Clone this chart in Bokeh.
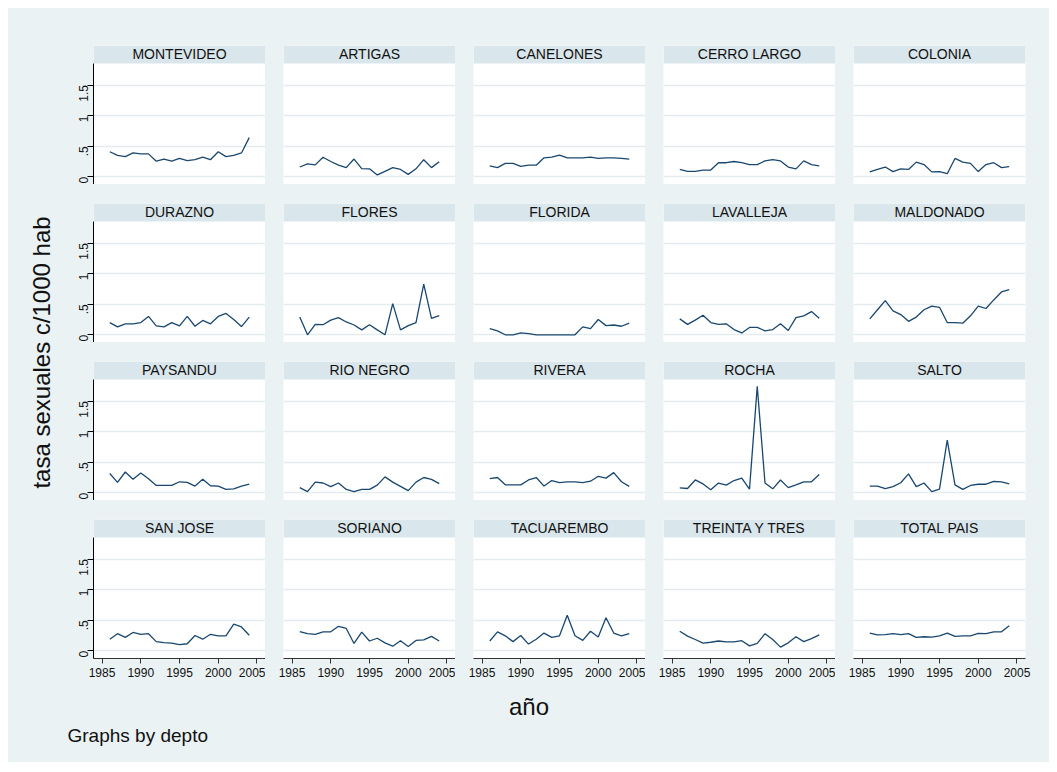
import math
from bokeh.plotting import figure
from bokeh.models import Range1d, LinearAxis, Grid, FixedTicker, BoxAnnotation, Label
from bokeh.layouts import row, column
from bokeh.embed import file_html
from bokeh.resources import INLINE

# ---------------- data ----------------
years = list(range(1986, 2005))

deptos = ["MONTEVIDEO", "ARTIGAS", "CANELONES", "CERRO LARGO", "COLONIA",
          "DURAZNO", "FLORES", "FLORIDA", "LAVALLEJA", "MALDONADO",
          "PAYSANDU", "RIO NEGRO", "RIVERA", "ROCHA", "SALTO",
          "SAN JOSE", "SORIANO", "TACUAREMBO", "TREINTA Y TRES", "TOTAL PAIS"]

montevideo = [0.41, 0.35, 0.33, 0.39, 0.375, 0.375, 0.255, 0.29, 0.255, 0.30, 0.265, 0.28, 0.32, 0.28, 0.41, 0.33, 0.35, 0.39, 0.64]
artigas = [0.16, 0.21, 0.195, 0.32, 0.25, 0.19, 0.15, 0.29, 0.135, 0.13, 0.03, 0.09, 0.15, 0.12, 0.04, 0.13, 0.28, 0.15, 0.245]
canelones = [0.18, 0.15, 0.22, 0.22, 0.17, 0.19, 0.19, 0.31, 0.32, 0.355, 0.31, 0.31, 0.31, 0.32, 0.30, 0.31, 0.31, 0.30, 0.29]
cerro_largo = [0.12, 0.09, 0.09, 0.11, 0.11, 0.23, 0.23, 0.25, 0.23, 0.20, 0.20, 0.26, 0.28, 0.26, 0.16, 0.13, 0.26, 0.20, 0.18]
colonia = [0.08, 0.12, 0.16, 0.085, 0.13, 0.12, 0.24, 0.20, 0.08, 0.085, 0.05, 0.30, 0.24, 0.22, 0.085, 0.20, 0.23, 0.15, 0.165]
durazno = [0.20, 0.13, 0.18, 0.18, 0.20, 0.30, 0.145, 0.13, 0.20, 0.145, 0.30, 0.14, 0.235, 0.18, 0.30, 0.35, 0.25, 0.135, 0.29]
flores = [0.29, 0.0, 0.17, 0.165, 0.24, 0.28, 0.21, 0.16, 0.08, 0.165, 0.08, 0.0, 0.51, 0.08, 0.15, 0.20, 0.83, 0.27, 0.315]
florida = [0.10, 0.065, 0.0, 0.0, 0.03, 0.02, 0.0, 0.0, 0.0, 0.0, 0.0, 0.0, 0.13, 0.10, 0.25, 0.15, 0.16, 0.14, 0.19]
lavalleja = [0.26, 0.17, 0.24, 0.32, 0.20, 0.17, 0.18, 0.085, 0.03, 0.12, 0.12, 0.065, 0.085, 0.18, 0.07, 0.28, 0.31, 0.38, 0.27]
maldonado = [0.26, 0.41, 0.56, 0.39, 0.33, 0.22, 0.29, 0.41, 0.47, 0.45, 0.20, 0.20, 0.19, 0.31, 0.47, 0.43, 0.57, 0.70, 0.74]
paysandu = [0.315, 0.17, 0.34, 0.22, 0.325, 0.23, 0.12, 0.12, 0.12, 0.18, 0.17, 0.11, 0.22, 0.115, 0.11, 0.055, 0.065, 0.11, 0.14]
rio_negro = [0.085, 0.02, 0.175, 0.16, 0.10, 0.16, 0.055, 0.02, 0.055, 0.055, 0.125, 0.26, 0.175, 0.105, 0.035, 0.175, 0.25, 0.22, 0.15]
rivera = [0.23, 0.25, 0.13, 0.13, 0.13, 0.21, 0.25, 0.11, 0.20, 0.165, 0.18, 0.18, 0.165, 0.19, 0.27, 0.24, 0.33, 0.18, 0.105]
rocha = [0.08, 0.07, 0.21, 0.145, 0.05, 0.16, 0.125, 0.20, 0.24, 0.06, 1.74, 0.16, 0.065, 0.21, 0.085, 0.13, 0.18, 0.18, 0.30]
salto = [0.11, 0.11, 0.07, 0.10, 0.165, 0.31, 0.10, 0.16, 0.02, 0.06, 0.86, 0.13, 0.055, 0.12, 0.14, 0.14, 0.185, 0.18, 0.145]
san_jose = [0.19, 0.28, 0.22, 0.30, 0.27, 0.28, 0.15, 0.135, 0.125, 0.10, 0.115, 0.25, 0.19, 0.27, 0.245, 0.245, 0.435, 0.39, 0.255]
soriano = [0.315, 0.28, 0.27, 0.31, 0.31, 0.40, 0.365, 0.12, 0.305, 0.16, 0.205, 0.13, 0.075, 0.165, 0.07, 0.17, 0.18, 0.235, 0.16]
tacuarembo = [0.16, 0.31, 0.245, 0.15, 0.25, 0.11, 0.19, 0.29, 0.22, 0.245, 0.58, 0.245, 0.17, 0.32, 0.225, 0.54, 0.29, 0.245, 0.28]
treinta_y_tres = [0.32, 0.24, 0.185, 0.125, 0.14, 0.16, 0.145, 0.145, 0.165, 0.08, 0.12, 0.28, 0.185, 0.06, 0.13, 0.23, 0.15, 0.20, 0.26]
total_pais = [0.29, 0.26, 0.265, 0.28, 0.265, 0.28, 0.22, 0.23, 0.225, 0.245, 0.29, 0.235, 0.245, 0.245, 0.285, 0.28, 0.31, 0.31, 0.41]

series = [montevideo, artigas, canelones, cerro_largo, colonia,
          durazno, flores, florida, lavalleja, maldonado,
          paysandu, rio_negro, rivera, rocha, salto,
          san_jose, soriano, tacuarembo, treinta_y_tres, total_pais]

x_ticks = [1985, 1990, 1995, 2000, 2005]
y_ticks = [0, 0.5, 1, 1.5]
y_tick_labels = {0: "0", 0.5: ".5", 1: "1", 1.5: "1.5"}

y_title = "tasa sexuales c/1000 hab"
x_title = "año"
note = "Graphs by depto"

# ---------------- styles ----------------
BG = "#EAF2F3"
STRIP = "#D9E6EB"
GRID = "#E3ECEF"
NAVY = "#1A476F"
FONT = "Liberation Sans"

X0, X1 = 1983.9, 2006.1
Y0, YTOP, Y1 = -0.126, 1.853, 2.147

NCOL = 5
rows = []
panel_row = []
for i, (name, vals) in enumerate(zip(deptos, series)):
    r, c = divmod(i, NCOL)
    p = figure(frame_width=172, frame_height=139,
               x_range=Range1d(X0, X1), y_range=Range1d(Y0, Y1),
               x_axis_location=None, y_axis_location=None,
               toolbar_location=None, output_backend="svg",
               min_border_left=30 if c == 0 else 18,
               min_border_right=24 if c == NCOL - 1 else 0,
               min_border_top=37 if r == 0 else 19,
               min_border_bottom=30 if r == 3 else 0,
               background_fill_color="white", border_fill_color=BG,
               outline_line_color=None)
    for g in p.grid:
        g.visible = False
    p.add_layout(Grid(dimension=1, ticker=FixedTicker(ticks=y_ticks),
                      grid_line_color=GRID, grid_line_width=1.3))
    p.line(years, vals, line_color=NAVY, line_width=1.3)
    p.add_layout(BoxAnnotation(bottom=YTOP, fill_color=STRIP, fill_alpha=1.0,
                               line_color=None))
    p.add_layout(Label(x=(X0 + X1) / 2, y=(YTOP + Y1) / 2, text=name,
                       text_align="center", text_baseline="middle",
                       text_font_size="14px", text_font=FONT, text_color="#111111"))
    if c == 0:
        ay = LinearAxis(ticker=FixedTicker(ticks=y_ticks),
                        major_label_overrides=y_tick_labels,
                        major_label_orientation=math.pi / 2,
                        bounds=(Y0, YTOP),
                        axis_line_color="black", axis_line_width=1,
                        major_tick_line_color="black", major_tick_out=6, major_tick_in=0,
                        minor_tick_line_color=None,
                        major_label_text_font_size="12px", major_label_text_font=FONT,
                        major_label_text_color="#111111", major_label_standoff=4)
        p.add_layout(ay, "left")
    if r == 3:
        ax = LinearAxis(ticker=FixedTicker(ticks=x_ticks),
                        axis_line_color="#333333", axis_line_width=1,
                        major_tick_line_color="#333333", major_tick_out=5, major_tick_in=0,
                        minor_tick_line_color=None,
                        major_label_text_font_size="12px", major_label_text_font=FONT,
                        major_label_text_color="#111111", major_label_standoff=4)
        p.add_layout(ax, "below")
    panel_row.append(p)
    if c == NCOL - 1:
        rows.append(row(*panel_row, styles={"background-color": BG}))
        panel_row = []

grid_col = column(*rows, styles={"background-color": BG})

# left title strip
left = figure(frame_width=55, frame_height=680, x_range=Range1d(0, 55), y_range=Range1d(0, 680),
              x_axis_location=None, y_axis_location=None, toolbar_location=None,
              output_backend="svg", min_border_left=0, min_border_right=0,
              min_border_top=0, min_border_bottom=0,
              background_fill_color=BG, border_fill_color=BG, outline_line_color=None)
for g in left.grid:
    g.visible = False
left.add_layout(Label(x=33, y=680 - (352 - 8), text=y_title, angle=math.pi / 2,
                      text_align="center", text_baseline="middle",
                      text_font_size="24px", text_font=FONT, text_color="#111111"))

# bottom title strip
bottom = figure(frame_width=1041, frame_height=74, x_range=Range1d(0, 1041), y_range=Range1d(0, 74),
                x_axis_location=None, y_axis_location=None, toolbar_location=None,
                output_backend="svg", min_border_left=0, min_border_right=0,
                min_border_top=0, min_border_bottom=0,
                background_fill_color=BG, border_fill_color=BG, outline_line_color=None)
for g in bottom.grid:
    g.visible = False
bottom.add_layout(Label(x=520.5, y=56, text=x_title, text_align="center", text_baseline="middle",
                        text_font_size="24px", text_font=FONT, text_color="#111111"))
bottom.add_layout(Label(x=59, y=27, text=note, text_align="left", text_baseline="middle",
                        text_font_size="19px", text_font=FONT, text_color="#111111"))

layout = column(row(left, grid_col, styles={"background-color": BG}), bottom,
                margin=(8, 8, 8, 8), styles={"background-color": BG})

open("out.html", "w").write(file_html(layout, INLINE))
